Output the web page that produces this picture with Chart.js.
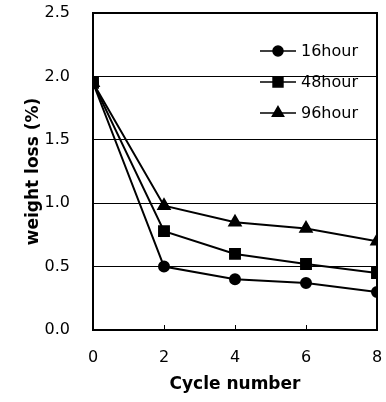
<!DOCTYPE html>
<html>
<head>
<meta charset="utf-8">
<script src="https://cdn.jsdelivr.net/npm/chart.js@4"></script>
<style>
  body { margin: 0; background: #fff; }
  canvas { display: block; }
</style>
</head>
<body>
<canvas id="myChart" width="386" height="402"></canvas>
<script>
// cycle number on x, weight loss (%) on y
var cycles = [0, 2, 4, 6, 8];
var loss16 = [1.95, 0.50, 0.40, 0.37, 0.30];
var loss48 = [1.95, 0.78, 0.60, 0.52, 0.45];
var loss96 = [1.95, 0.98, 0.85, 0.80, 0.70];
var seriesNames = ["16hour", "48hour", "96hour"];
var yTicks = [0.0, 0.5, 1.0, 1.5, 2.0, 2.5];

function pts(vals) {
	return cycles.map((c, i) => ({x: c, y: vals[i]}));
}

var font = "'DejaVu Sans', sans-serif";

// frame, inward x ticks and legend inside plot
var framePlugin = {
	id: 'frame',
	afterDatasetsDraw(chart) {
		var ctx = chart.ctx, a = chart.chartArea;
		ctx.save();
		ctx.strokeStyle = '#000';
		ctx.lineWidth = 2;
		ctx.strokeRect(a.left, a.top, a.right - a.left, a.bottom - a.top);
		ctx.lineWidth = 1;
		var xs = chart.scales.x;
		xs.ticks.forEach(t => {
			var px = Math.round(xs.getPixelForValue(t.value)) + 0.5;
			ctx.beginPath();
			ctx.moveTo(px, a.bottom);
			ctx.lineTo(px, a.bottom - 5);
			ctx.stroke();
		});
		// legend
		var y0 = 51, dy = 31, lx = 260, lw = 36;
		chart.data.datasets.forEach((ds, i) => {
			var y = y0 + i * dy;
			ctx.strokeStyle = '#000';
			ctx.lineWidth = 1.5;
			ctx.beginPath();
			ctx.moveTo(lx, y);
			ctx.lineTo(lx + lw, y);
			ctx.stroke();
			Chart.helpers.drawPoint(ctx, {pointStyle: ds.pointStyle, radius: ds.pointRadius, borderWidth: 1}, lx + lw / 2, y);
			ctx.fillStyle = '#000';
			ctx.font = '16px ' + font;
			ctx.textBaseline = 'middle';
			ctx.textAlign = 'left';
			ctx.fillText(ds.label, lx + lw + 5, y + 1);
		});
		ctx.restore();
	}
};

function ds(label, vals, style, r) {
	return {
		label: label,
		data: pts(vals),
		borderColor: '#000',
		backgroundColor: '#000',
		borderWidth: 2,
		pointStyle: style,
		pointRadius: r,
		pointHoverRadius: r,
		pointBackgroundColor: '#000',
		pointBorderColor: '#000',
		fill: false,
		tension: 0
	};
}

new Chart(document.getElementById("myChart"), {
	type: 'line',
	data: {
		datasets: [
			ds(seriesNames[0], loss16, 'circle', 5),
			ds(seriesNames[1], loss48, 'rect', 7),
			ds(seriesNames[2], loss96, 'triangle', 6.5)
		]
	},
	options: {
		responsive: false,
		animation: false,
		layout: { padding: { top: 13, right: 9, left: 0, bottom: 0 } },
		plugins: { legend: { display: false }, tooltip: { enabled: false } },
		scales: {
			x: {
				type: 'linear',
				min: 0, max: 8,
				grid: { display: false },
				border: { display: false },
				ticks: { stepSize: 2, color: '#000', font: { family: font, size: 16 }, padding: 10 },
				title: { display: true, text: 'Cycle number', color: '#000', font: { family: font, size: 17, weight: 'bold' }, padding: { top: 0, bottom: 7 } },
				afterFit(s) { s.height = 72; s.paddingLeft = 0; s.paddingRight = 0; }
			},
			y: {
				min: 0, max: 2.5,
				afterBuildTicks(s) { s.ticks = yTicks.map(v => ({value: v})); },
				grid: { color: '#000', lineWidth: 1, drawTicks: false },
				border: { display: false },
				ticks: { color: '#000', font: { family: font, size: 16 }, padding: 23, callback: v => v.toFixed(1) },
				title: { display: true, text: 'weight loss (%)', color: '#000', font: { family: font, size: 17, weight: 'bold' }, padding: { top: 23, bottom: 0 } },
				afterFit(s) { s.width = 93; s.paddingTop = 0; s.paddingBottom = 0; }
			}
		}
	},
	plugins: [framePlugin]
});
</script>
</body>
</html>
